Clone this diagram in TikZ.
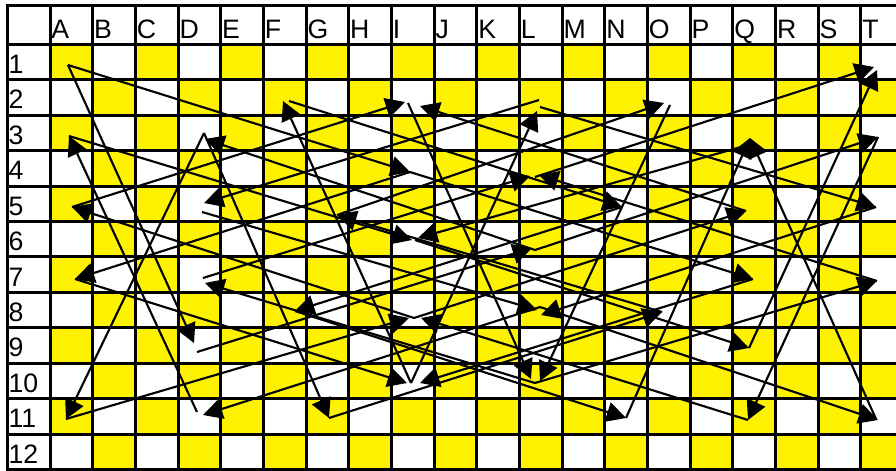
\documentclass[tikz,border=0pt]{standalone}
\usepackage{fontspec}
\setmainfont{Liberation Sans}
\usetikzlibrary{arrows.meta}
\begin{document}
\begin{tikzpicture}[x=0.75pt,y=-0.75pt,
  gridline/.style={line width=2.25pt,black,line cap=rect},
  conn/.style={line width=1.6pt,black,-{Triangle[length=14.5pt,width=15pt]}},
  lbl/.style={anchor=base west,inner sep=0pt,font=\fontsize{20}{20}\selectfont}]
\useasboundingbox (0,0) rectangle (896,471);
\clip (0,0) rectangle (896,471);
\fill[white] (0,0) rectangle (896,471);
% checkerboard
\foreach \c in {1,...,20}{
  \foreach \r in {1,...,12}{
    \pgfmathtruncatemacro\s{\c+\r}
    \ifodd\s\relax\else
      \fill[yellow] ({50+(\c-1)*42.68},{44.3+(\r-1)*35.43}) rectangle ({50+\c*42.68},{44.3+\r*35.43});
    \fi
  }
}
% grid
\draw[gridline] (7,5) -- (7,469.5);
\foreach \k in {0,...,20} \draw[gridline] ({50+\k*42.68},5) -- ({50+\k*42.68},469.5);
\draw[gridline] (7,5) -- (904,5);
\foreach \r in {0,...,12} \draw[gridline] (7,{44.3+\r*35.43}) -- (904,{44.3+\r*35.43});
% labels
\foreach \L [count=\k from 0] in {A,B,C,D,E,F,G,H,I,J,K,L,M,N,O,P,Q,R,S,T}
  \node[lbl] (h\L) at ({51.2+\k*42.68},38.3) {\L};
\foreach \r in {1,...,12}
  \node[lbl] (r\r) at (8.3,{44.3+\r*35.43-6.3}) {\r};
% points
\coordinate (A1) at (68,65);
\coordinate (A3) at (69,136);
\coordinate (A5) at (72,207);
\coordinate (A7) at (75,279);
\coordinate (A11) at (66,419);
\coordinate (D3) at (204,133);
\coordinate (D3h) at (205,139);
\coordinate (D5) at (202,212);
\coordinate (D5h) at (204,203);
\coordinate (D7) at (203,278);
\coordinate (D7h) at (205,283);
\coordinate (D9) at (197,352);
\coordinate (D9h) at (194,343);
\coordinate (D11) at (197,412);
\coordinate (D11h) at (203,415);
\coordinate (F2) at (289,101);
\coordinate (F2h) at (283,101);
\coordinate (F8) at (295,311);
\coordinate (G5) at (337,215);
\coordinate (G11) at (329,418);
\coordinate (I2) at (408,103);
\coordinate (I2a) at (405,102);
\coordinate (I2b) at (420,106);
\coordinate (I4) at (410,172);
\coordinate (I6) at (415,240);
\coordinate (I6a) at (412,240);
\coordinate (I6b) at (418,238);
\coordinate (I8) at (414,318);
\coordinate (I8a) at (409,318);
\coordinate (I8b) at (421,318);
\coordinate (I10) at (411,383);
\coordinate (I10a) at (407,383);
\coordinate (I10b) at (420,383);
\coordinate (L2) at (539,100);
\coordinate (L2b) at (540,107);
\coordinate (L2h) at (537,111);
\coordinate (L4) at (535,177);
\coordinate (L4a) at (530,176);
\coordinate (L4b) at (539,175);
\coordinate (L6) at (535,250);
\coordinate (L6h) at (532,248);
\coordinate (L8) at (540,307);
\coordinate (L8a) at (537,310);
\coordinate (L8b) at (541,315);
\coordinate (L10) at (535,383);
\coordinate (L10a) at (531,379);
\coordinate (L10b) at (540,381);
\coordinate (N5) at (622,207);
\coordinate (N11) at (626,418);
\coordinate (O2) at (670,105);
\coordinate (O2h) at (664,103);
\coordinate (O8) at (662,312);
\coordinate (Q3) at (748,145);
\coordinate (Q3h) at (750,138);
\coordinate (Q5) at (746,211);
\coordinate (Q7) at (753,279);
\coordinate (Q9) at (749,348);
\coordinate (Q11) at (748,420);
\coordinate (T1a) at (874,67);
\coordinate (T1b) at (877,70);
\coordinate (T3) at (878,137);
\coordinate (T5) at (876,207);
\coordinate (T7) at (877,281);
\coordinate (T11) at (878,420);
\coordinate (T11t) at (876,419);
% connectors
\draw[conn] (A1) -- (D9h);
\draw[conn] (A1) -- (I4);
\draw[conn] (D11) -- (A3);
\draw[conn] (A3) -- (I6a);
\draw[conn] (A5) -- (I2a);
\draw[conn] (I8) -- (A5);
\draw[conn] (I4) -- (A7);
\draw[conn] (A7) -- (I10a);
\draw[conn] (D3) -- (A11);
\draw[conn] (A11) -- (I8a);
\draw[conn] (D3) -- (G11);
\draw[conn] (L6) -- (D3h);
\draw[conn] (L2) -- (D5h);
\draw[conn] (D5) -- (L8a);
\draw[conn] (D7) -- (L4a);
\draw[conn] (L10) -- (D7h);
\draw[conn] (D9) -- (L6h);
\draw[conn] (L8) -- (D11h);
\draw[conn] (I10) -- (F2h);
\draw[conn] (F2) -- (N5);
\draw[conn] (N5) -- (F8);
\draw[conn] (F8) -- (N11);
\draw[conn] (G5) -- (O2h);
\draw[conn] (O8) -- (G5);
\draw[conn] (G11) -- (O8);
\draw[conn] (O2) -- (L10b);
\draw[conn] (I2) -- (L10a);
\draw[conn] (Q5) -- (I2b);
\draw[conn] (I10) -- (L2h);
\draw[conn] (L2b) -- (T5);
\draw[conn] (L4) -- (T1a);
\draw[conn] (Q9) -- (T1b);
\draw[conn] (I6) -- (Q9);
\draw[conn] (Q3) -- (I6b);
\draw[conn] (N11) -- (Q3h);
\draw[conn] (T11t) -- (Q3h);
\draw[conn] (I8) -- (Q5);
\draw[conn] (Q11) -- (I8b);
\draw[conn] (I4) -- (Q7);
\draw[conn] (Q7) -- (I10b);
\draw[conn] (T7) -- (L4b);
\draw[conn] (L6) -- (T3);
\draw[conn] (T5) -- (L8b);
\draw[conn] (L8) -- (T11);
\draw[conn] (L10) -- (T7);
\draw[conn] (T3) -- (Q11);
\end{tikzpicture}
\end{document}
